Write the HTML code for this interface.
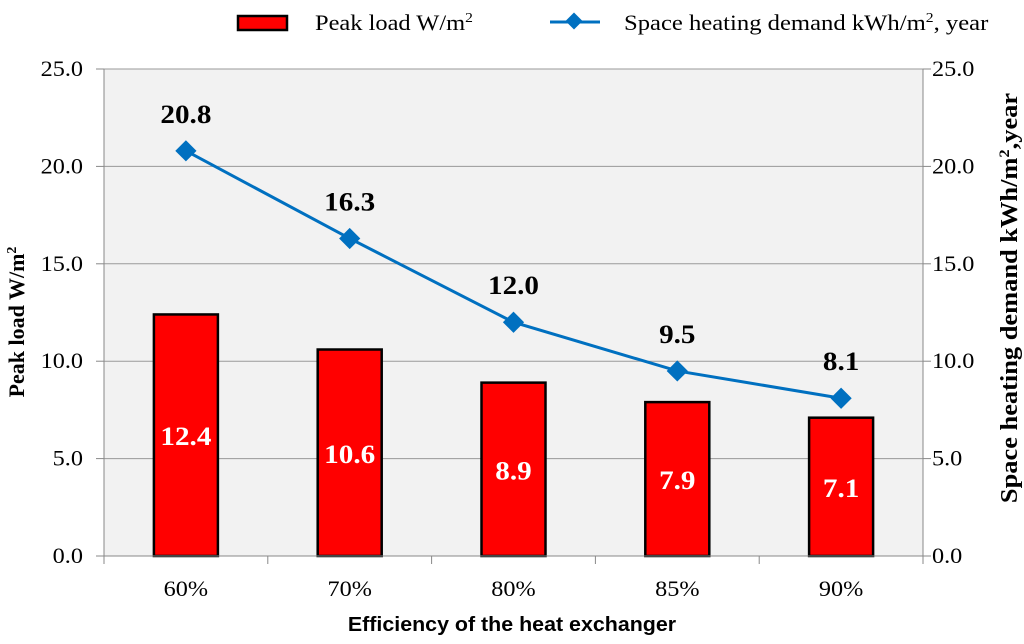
<!DOCTYPE html>
<html><head><meta charset="utf-8"><style>
body{margin:0;background:#fff;}
svg{display:block;font-family:"Liberation Serif",serif;}
</style></head><body>
<svg id="svg" width="1024" height="644" viewBox="0 0 1024 644">
<g>
<rect x="238" y="16" width="49" height="14" fill="#f00" stroke="#000" stroke-width="2.5"/>
<text x="315" y="30" font-size="22" data-sx="1.11">Peak load W/m<tspan dy="-8" font-size="14">2</tspan></text>
<line x1="550" y1="22" x2="600" y2="22" stroke="#0070c0" stroke-width="3"/>
<rect x="568" y="15" width="12" height="12" fill="#0070c0" transform="rotate(45 574 21)"/>
<text x="624" y="30" font-size="22" data-sx="1.12">Space heating demand kWh/m<tspan dy="-8" font-size="14">2</tspan><tspan dy="8">, year</tspan></text>
</g>
<rect x="104" y="69" width="819" height="487" fill="#f2f2f2"/>
<g id="grid"></g>
<g id="bars"></g>
<g id="line"></g>
<g id="axes"></g>
<g transform="translate(24 322) rotate(-90)"><text x="0" y="0" font-size="22" font-weight="bold" text-anchor="middle" data-sx="1.0">Peak load W/m<tspan dy="-8" font-size="14">2</tspan></text></g>
<g transform="translate(1017 298) rotate(-90)"><text x="0" y="0" font-size="24" font-weight="bold" text-anchor="middle" data-sx="1.1">Space heating demand kWh/m<tspan dy="-8" font-size="15">2</tspan><tspan dy="8">,year</tspan></text></g>
<text x="512" y="631" font-size="20" font-weight="bold" text-anchor="middle" font-family="Liberation Sans, sans-serif" data-sx="1.07">Efficiency of the heat exchanger</text>
<script>
const categories=["60%","70%","80%","85%","90%"];
const peakLoad=[12.4,10.6,8.9,7.9,7.1];
const heatingDemand=[20.8,16.3,12.0,9.5,8.1];
const yTicks=[0,5,10,15,20,25];
const NS="http://www.w3.org/2000/svg";
const L=104,R=923,T=69,B=556,MAX=25;
const bw=(R-L)/categories.length;
const y=v=>B-(v/MAX)*(B-T);
const xc=i=>L+bw*(i+0.5);
const LINE='#0070c0';
function mk(tag,attrs,parent,txt){const e=document.createElementNS(NS,tag);for(const k in attrs)e.setAttribute(k,attrs[k]);if(txt!==undefined)e.textContent=txt;document.getElementById(parent).appendChild(e);return e;}
yTicks.forEach(v=>{
 let g=mk('line',{x1:L,x2:R,y1:y(v),y2:y(v),stroke:'#999','stroke-width':1},'grid');
 
 
 let t1=mk('text',{x:83,y:y(v)+7,'font-size':22,'text-anchor':'end','data-sx':1.1},'axes',v.toFixed(1));
 
 
 let t2=mk('text',{x:932,y:y(v)+7,'font-size':22,'data-sx':1.1},'axes',v.toFixed(1));
 
 
 let k1=mk('line',{x1:96,x2:L,y1:y(v),y2:y(v),stroke:'#888'},'axes');
 
 
 let k2=mk('line',{x1:R,x2:R+8,y1:y(v),y2:y(v),stroke:'#888'},'axes');
 
 
});
[[L,T,L,B],[R,T,R,B],[L,B,R,B]].forEach(a=>{
 let l=mk('line',{x1:a[0],y1:a[1],x2:a[2],y2:a[3],stroke:'#888'},'axes');
 
 
});
for(let i=0;i<=categories.length;i++){
 let k=mk('line',{x1:L+bw*i,x2:L+bw*i,y1:B,y2:B+8,stroke:'#888'},'axes');
 
 
}
categories.forEach((c,i)=>{
 let t=mk('text',{x:xc(i),y:596,'font-size':22,'text-anchor':'middle','data-sx':1.1},'axes',c);
 
 
 let b=mk('rect',{x:xc(i)-32,y:y(peakLoad[i]),width:64,height:B-y(peakLoad[i]),fill:'#f00',stroke:'#000','stroke-width':2.5},'bars');
 
 
 let bl=mk('text',{x:xc(i),y:y(peakLoad[i]/2)+10,'font-size':26,'font-weight':'bold',fill:'#fff','text-anchor':'middle','data-sx':1.12},'bars',peakLoad[i].toFixed(1));
 
 
});
let pts=heatingDemand.map((v,i)=>xc(i)+','+y(v)).join(' ');
let pl=mk('polyline',{points:pts,fill:'none',stroke:LINE,'stroke-width':3},'line');


heatingDemand.forEach((v,i)=>{
 let m=mk('rect',{x:xc(i)-7.5,y:y(v)-7.5,width:15,height:15,fill:LINE,transform:`rotate(45 ${xc(i)} ${y(v)})`},'line');
 
 
 let t=mk('text',{x:xc(i),y:y(v)-28,'font-size':26,'font-weight':'bold','text-anchor':'middle','data-sx':1.12},'line',v.toFixed(1));
 
 
});
document.querySelectorAll('text[data-sx]').forEach(t=>{
 const w=t.getComputedTextLength();
 const sx=parseFloat(t.getAttribute('data-sx'));
 t.setAttribute('textLength',(w*sx).toFixed(1));
 t.setAttribute('lengthAdjust','spacingAndGlyphs');
});
</script>
</svg>
</body></html>
